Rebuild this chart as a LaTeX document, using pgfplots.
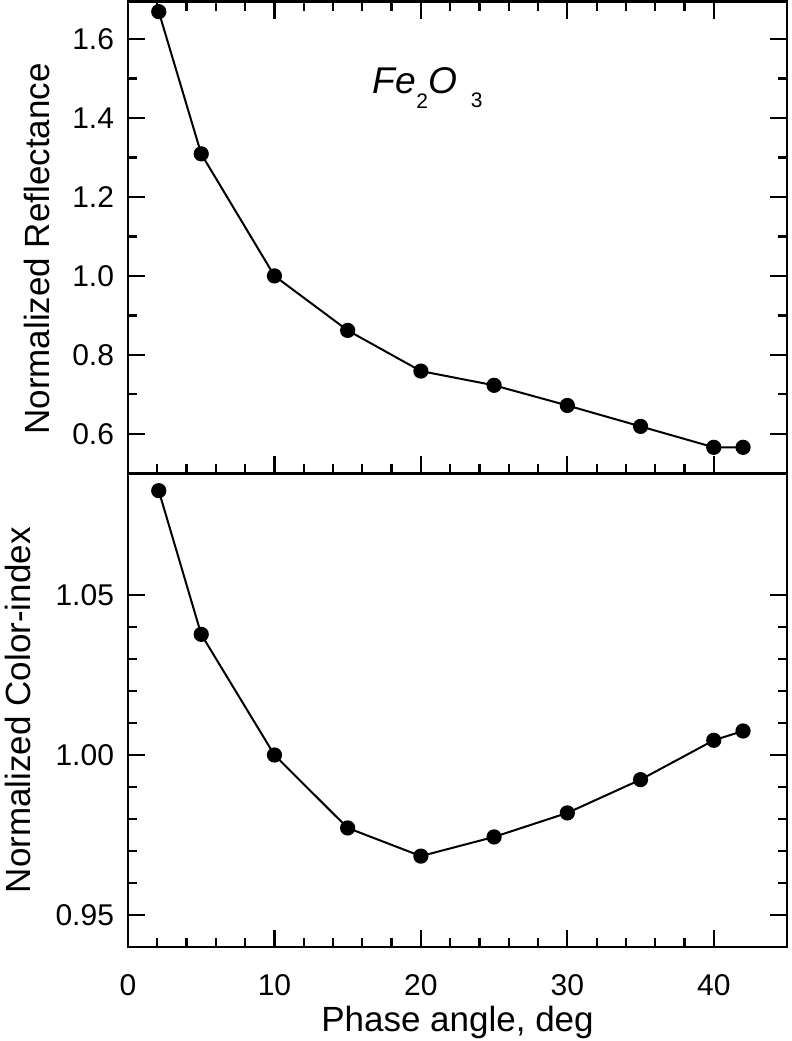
\documentclass[border=0pt]{standalone}
\usepackage{fontspec}
\setmainfont{Liberation Sans}
\usepackage{pgfplots}
\pgfplotsset{compat=1.18}
\begin{document}
\begin{tikzpicture}
\pgfplotsset{
  every axis/.append style={
    scale only axis, width=329.5bp,
    xmin=0, xmax=45, xtick={0,10,20,30,40}, minor x tick num=4,
    tick align=inside, ytick pos=both,
    major tick length=8.5bp, minor tick length=4.5bp,
    axis line style={line width=1.3bp}, every tick/.style={line width=1.1bp, black},
    every minor tick/.style={line width=1.1bp, black},
    tick label style={font=\fontsize{15bp}{17bp}\selectfont},
    label style={font=\fontsize{17.5bp}{19bp}\selectfont},
    /pgf/number format/assume math mode=true,
    yticklabel style={xshift=-3.5bp},
    xticklabel style={yshift=-10.5bp},
  },
}
\begin{axis}[
  at={(0,0)}, anchor=origin, name=bot, height=236.8bp,
  ymin=0.94, ymax=1.088, ytick={0.95,1,1.05}, minor y tick num=4,
  yticklabel style={/pgf/number format/.cd, fixed, fixed zerofill, precision=2},
  xtick pos=bottom,
  ylabel={Normalized Color-index},
  ylabel style={at={(axis description cs:-0.167,0.5)}, anchor=center, rotate=0},
  xlabel={Phase angle, deg},
  xlabel style={at={(axis description cs:0.5,-0.179)}, anchor=base},
]
\addplot[black, line width=1bp, mark=*, mark size=3.3bp] coordinates {
(2.1,1.0826) (5,1.0377) (10,1.000) (15,0.9772) (20,0.9684) (25,0.9744) (30,0.9819) (35,0.9923) (40,1.0046) (42,1.0075)
};
\end{axis}
\begin{axis}[
  at={(0,236.8bp)}, anchor=origin, name=top, height=235.8bp,
  ymin=0.5, ymax=1.694, ytick={0.6,0.8,1.0,1.2,1.4,1.6}, minor y tick num=1,
  yticklabel style={/pgf/number format/.cd, fixed, fixed zerofill, precision=1},
  xtick pos=both, xticklabels={},
  ylabel={Normalized Reflectance},
  ylabel style={at={(axis description cs:-0.138,0.476)}, anchor=center, rotate=0},
]
\addplot[black, line width=1bp, mark=*, mark size=3.3bp] coordinates {
(2.1,1.669) (5,1.309) (10,1.000) (15,0.862) (20,0.759) (25,0.723) (30,0.672) (35,0.619) (40,0.566) (42,0.566)
};
\node[anchor=base west, font=\fontsize{18.6bp}{20bp}\selectfont\itshape, inner sep=0pt] at (axis cs:16.7,1.461)
  {Fe\raisebox{-7.5bp}{\fontsize{10.5bp}{11bp}\selectfont\upshape 2}O\hspace{7bp}\raisebox{-7bp}{\fontsize{10.5bp}{11bp}\selectfont\upshape 3}};
\end{axis}
\pgfresetboundingbox
\useasboundingbox (-64bp,-47bp) rectangle (332bp,473.5bp);
\end{tikzpicture}
\end{document}
